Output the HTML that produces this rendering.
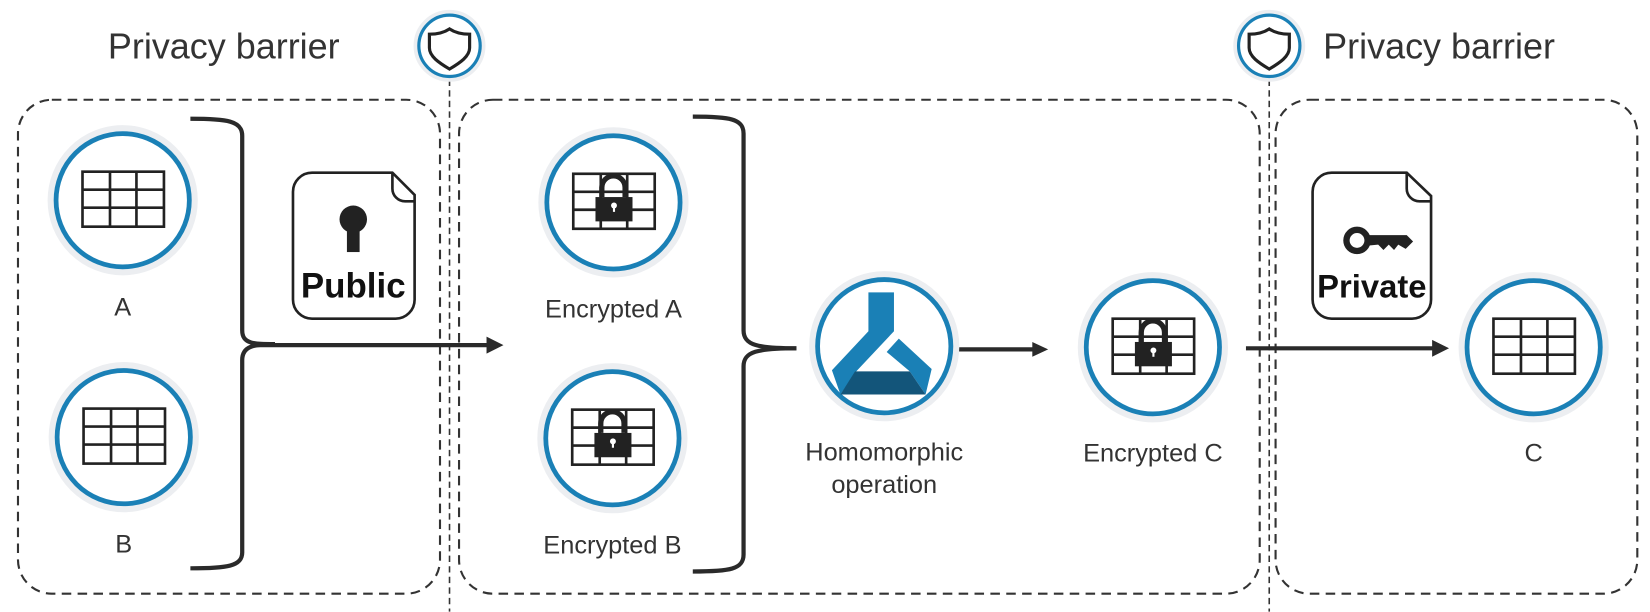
<!DOCTYPE html>
<html><head><meta charset="utf-8"><style>
html,body{margin:0;padding:0;background:#fff;}
svg{display:block;}
text{font-family:"Liberation Sans",sans-serif;fill:#333;}
</style></head><body>
<svg width="1650" height="612" viewBox="0 0 1560 578" xmlns="http://www.w3.org/2000/svg">
<defs>
<g id="grid">
<rect x="-38" y="-26" width="77" height="52" fill="none" stroke="#222" stroke-width="2.5"/>
<line x1="-12" y1="-26" x2="-12" y2="26" stroke="#222" stroke-width="2.5"/>
<line x1="13" y1="-26" x2="13" y2="26" stroke="#222" stroke-width="2.5"/>
<line x1="-38" y1="-9" x2="39" y2="-9" stroke="#222" stroke-width="2.5"/>
<line x1="-38" y1="8" x2="39" y2="8" stroke="#222" stroke-width="2.5"/>
</g>
<g id="lockgrid">
<use href="#grid"/>
<path d="M-11,-4 V-13 A11,11 0 0 1 11,-13 V-4" fill="none" stroke="#222" stroke-width="5"/>
<rect x="-17" y="-4" width="35" height="23" fill="#222"/>
<circle cx="0.5" cy="4" r="2.8" fill="#fff"/>
<rect x="-0.5" y="4" width="2" height="6" fill="#fff"/>
</g>
<g id="ring">
<circle r="68" fill="none" stroke="#eceef1" stroke-width="6"/>
<circle r="63" fill="#fff" stroke="#1a80b6" stroke-width="4.5"/>
</g>
<g id="shield">
<circle r="32" fill="none" stroke="#eceef1" stroke-width="4"/>
<circle r="29" fill="#fff" stroke="#1a80b6" stroke-width="3"/>
<path d="M0,-16 C6,-12 12,-11 19,-11 V2 C19,10 10,16 0,22 C-10,16 -19,10 -19,2 V-11 C-12,-11 -6,-12 0,-16 Z" fill="none" stroke="#222" stroke-width="3"/>
</g>
</defs>

<g fill="none" stroke="#333" stroke-width="2" stroke-dasharray="9,6">
<rect x="17" y="94" width="399" height="467" rx="32"/>
<rect x="434" y="94" width="757" height="467" rx="32"/>
<rect x="1206" y="94" width="342" height="467" rx="32"/>
<line x1="425" y1="75" x2="425" y2="578" stroke-width="1.5" stroke-dasharray="6,4"/>
<line x1="1200" y1="75" x2="1200" y2="578" stroke-width="1.5" stroke-dasharray="6,4"/>
</g>

<text x="102" y="55" font-size="34">Privacy barrier</text>
<text x="1251" y="55" font-size="34">Privacy barrier</text>
<use href="#shield" x="425" y="43"/>
<use href="#shield" x="1200" y="43"/>

<g fill="none" stroke="#2a2a2a" stroke-width="4">
<path d="M180,112 C215,112 229,114 229,128 V312 C229,325 240,325 260,325"/>
<path d="M180,537 C215,537 229,535 229,522 V340 C229,327 240,325 260,325"/>
<path d="M655,110 C690,110 703,112 703,126 V312 C703,326 716,329 753,329"/>
<path d="M655,540 C690,540 703,538 703,524 V346 C703,332 716,329 753,329"/>
</g>

<g stroke="#2a2a2a" stroke-width="4" fill="#2a2a2a">
<line x1="240" y1="326" x2="462" y2="326"/>
<polygon points="476,326 460,318 460,334" stroke="none"/>
<line x1="888" y1="330" x2="978" y2="330"/>
<polygon points="991,330 976,323 976,337" stroke="none"/>
<line x1="1178" y1="329" x2="1356" y2="329"/>
<polygon points="1370,329 1354,321 1354,337" stroke="none"/>
</g>

<use href="#ring" x="116" y="189"/><use href="#grid" x="116" y="188"/>
<use href="#ring" x="117" y="413"/><use href="#grid" x="117" y="412"/>
<use href="#ring" x="580" y="191"/><use href="#lockgrid" x="580" y="190"/>
<use href="#ring" x="579" y="414"/><use href="#lockgrid" x="579" y="413"/>
<use href="#ring" x="836" y="327"/>
<use href="#ring" x="1090" y="328"/><use href="#lockgrid" x="1090" y="327"/>
<use href="#ring" x="1450" y="328"/><use href="#grid" x="1450" y="327"/>

<g transform="translate(836,329) scale(1.15)">
<polygon points="-13,-46 8,-46 8,-14 -23,19 -36,38 -43,18 -13,-14" fill="#1a80b6"/>
<polygon points="12,-8 39,17 34,38 21,19 2,3" fill="#1a80b6"/>
<polygon points="-24,19 21,19 34,38 -36,38" fill="#13557a"/>
</g>

<g fill="#fff" stroke="#222" stroke-width="2.5">
<path d="M297,163 H371 L392,184 V283 A18,18 0 0 1 374,301 H295 A18,18 0 0 1 277,283 V181 A18,18 0 0 1 295,163 Z"/>
<path d="M371,163 V178 A12,12 0 0 0 383,190 H392" fill="none"/>
<path d="M1259,163 H1330 L1353,185 V283 A18,18 0 0 1 1335,301 H1259 A18,18 0 0 1 1241,283 V181 A18,18 0 0 1 1259,163 Z"/>
<path d="M1330,163 V178 A12,12 0 0 0 1342,190 H1353" fill="none"/>
</g>
<circle cx="334" cy="207" r="13" fill="#222"/>
<rect x="328" y="208" width="12" height="30" fill="#222"/>
<text x="334" y="281" font-size="33" font-weight="bold" text-anchor="middle" style="fill:#111">Public</text>
<circle cx="1283" cy="227" r="10" fill="none" stroke="#222" stroke-width="6"/>
<polygon points="1292,222 1330,222 1336,228 1329,235 1322,231 1318,236 1313,231 1308,236 1303,231 1292,232" fill="#222"/>
<text x="1297" y="281" font-size="31" font-weight="bold" text-anchor="middle" style="fill:#111">Private</text>

<g font-size="24" text-anchor="middle">
<text x="116" y="298">A</text>
<text x="117" y="522">B</text>
<text x="580" y="300">Encrypted A</text>
<text x="579" y="523">Encrypted B</text>
<text x="836" y="435">Homomorphic</text>
<text x="836" y="466">operation</text>
<text x="1090" y="436">Encrypted C</text>
<text x="1450" y="436">C</text>
</g>
</svg>
</body></html>
